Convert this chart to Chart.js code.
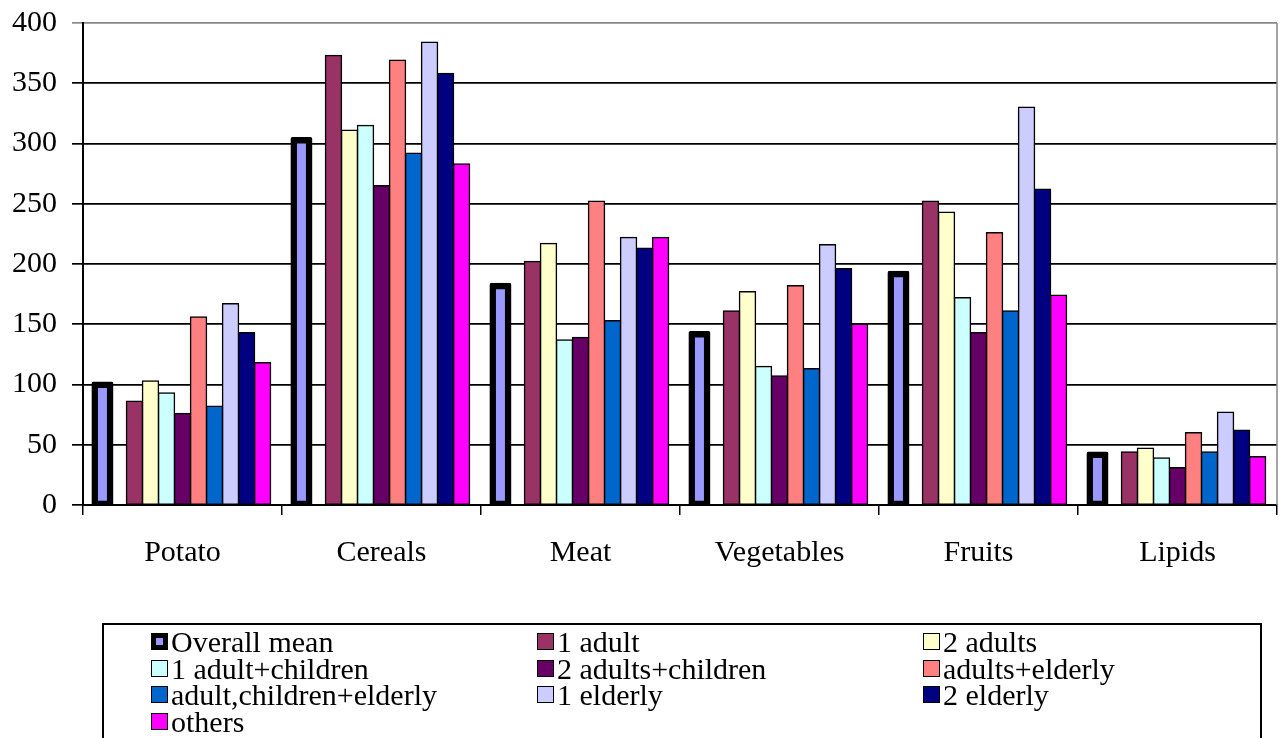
<!DOCTYPE html>
<html>
<head>
<meta charset="utf-8">
<script src="https://cdn.jsdelivr.net/npm/chart.js@4.4.1/dist/chart.umd.min.js"></script>
<style>
  body { margin: 0; background: #fff; }
  #wrap { position: relative; width: 1282px; height: 738px; overflow: hidden; }
  #legend {
    position: absolute; left: 102px; top: 623px; width: 1160px; height: 140px;
    border: 2px solid #000; box-sizing: border-box; padding: 4px 0 0 47px;
    display: grid; grid-template-columns: 386px 386px 386px; align-content: start;
    font: 30px "Liberation Serif", "Times New Roman", serif; line-height: 26.7px; color: #000;
  }
  .item { position: relative; height: 26.7px; padding-left: 20px; white-space: nowrap; }
  .sw { position: absolute; left: 0; top: 4px; width: 17px; height: 17px; box-sizing: border-box; }
</style>
</head>
<body>
<div id="wrap">
  <canvas id="chart" width="1282" height="738"></canvas>
  <div id="legend"></div>
</div>
<script>
// food groups
var categories = ['Potato', 'Cereals', 'Meat', 'Vegetables', 'Fruits', 'Lipids'];

// household types, values
var overallMean          = [100, 303, 182, 142, 192, 42];
var oneAdult             = [86, 373, 202, 161, 252, 44];
var twoAdults            = [103, 311, 217, 177, 243, 47];
var oneAdultChildren     = [93, 315, 137, 115, 172, 39];
var twoAdultsChildren    = [76, 265, 139, 107, 143, 31];
var adultsElderly        = [156, 369, 252, 182, 226, 60];
var adultChildrenElderly = [82, 292, 153, 113, 161, 44];
var oneElderly           = [167, 384, 222, 216, 330, 77];
var twoElderly           = [143, 358, 213, 196, 262, 62];
var others               = [118, 283, 222, 150, 174, 40];
// empty slot next to the mean bar (the original leaves a gap there)
var spacer               = [null, null, null, null, null, null];

var yTicks = [0, 50, 100, 150, 200, 250, 300, 350, 400];

function series(label, data, color){
  return {
    label: label, data: data, backgroundColor: color,
    borderColor: '#000', borderWidth: 1.5, borderSkipped: false, inflateAmount: 0.75
  };
}

var datasets = [
  { label: 'Overall mean', data: overallMean, backgroundColor: '#9999FF',
    borderColor: '#000', borderWidth: 6.5, borderSkipped: false, inflateAmount: 3, borderRadius: 2 },
  { label: '', data: spacer, backgroundColor: 'rgba(0,0,0,0)', borderWidth: 0 },
  series('1 adult', oneAdult, '#993366'),
  series('2 adults', twoAdults, '#FFFFCC'),
  series('1 adult+children', oneAdultChildren, '#CCFFFF'),
  series('2 adults+children', twoAdultsChildren, '#660066'),
  series('adults+elderly', adultsElderly, '#FF8080'),
  series('adult,children+elderly', adultChildrenElderly, '#0066CC'),
  series('1 elderly', oneElderly, '#CCCCFF'),
  series('2 elderly', twoElderly, '#000080'),
  series('others', others, '#FF00FF')
];

var rightEdge = {
  id: 'rightEdge',
  afterDraw: function(chart){
    var a = chart.chartArea, c = chart.ctx;
    c.save();
    c.strokeStyle = '#888';
    c.lineWidth = 1.5;
    c.beginPath();
    c.moveTo(a.right, a.top);
    c.lineTo(a.right, a.bottom);
    c.stroke();
    c.restore();
  }
};

var font = { family: '"Liberation Serif", "Times New Roman", serif', size: 30 };

var ctx = document.getElementById('chart').getContext('2d');
var chart = new Chart(ctx, {
  type: 'bar',
  data: { labels: categories, datasets: datasets },
  options: {
    responsive: false,
    devicePixelRatio: 1,
    animation: false,
    events: [],
    layout: { padding: { top: 23, right: 5, bottom: 0, left: 0 } },
    datasets: { bar: { barPercentage: 1, categoryPercentage: 0.885 } },
    plugins: { legend: { display: false }, tooltip: { enabled: false } },
    scales: {
      x: {
        afterFit: function(s){ s.height = 233; s.paddingLeft = 0; s.paddingRight = 0; },
        grid: { drawOnChartArea: false, drawTicks: true, tickLength: 10, color: '#000', lineWidth: 1.5 },
        border: { color: '#000', width: 2 },
        ticks: { color: '#000', font: font, padding: 20 }
      },
      y: {
        min: 0, max: 400,
        afterFit: function(s){ s.width = 83; s.paddingTop = 0; s.paddingBottom = 0; },
        afterBuildTicks: function(s){ s.ticks = yTicks.map(function(v){ return { value: v }; }); },
        grid: {
          color: function(c){ return c.tick && c.tick.value === 400 ? '#888' : '#000'; },
          lineWidth: 1.7, tickLength: 11
        },
        border: { color: '#000', width: 2 },
        ticks: { color: '#000', font: font, padding: 15 }
      }
    }
  },
  plugins: [rightEdge]
});

// legend in the boxed three-column layout of the original
var legend = document.getElementById('legend');
chart.data.datasets.forEach(function(ds){
  if (ds.label === '') return;
  var item = document.createElement('div');
  item.className = 'item';
  var sw = document.createElement('span');
  sw.className = 'sw';
  sw.style.background = ds.backgroundColor;
  sw.style.border = (ds.borderWidth > 3 ? 5 : 1.5) + 'px solid #000';
  item.appendChild(sw);
  item.appendChild(document.createTextNode(ds.label));
  legend.appendChild(item);
});
</script>
</body>
</html>
